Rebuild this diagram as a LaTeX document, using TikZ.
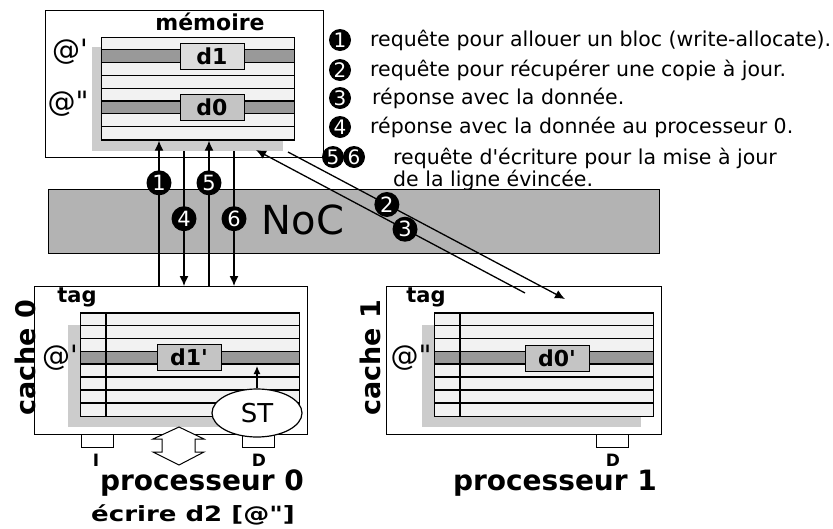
\documentclass[tikz,border=0pt]{standalone}
\usepackage{fontspec}
\setmainfont{DejaVu Sans}
\usetikzlibrary{arrows.meta,shapes.geometric}
\newcommand\fsz[1]{\fontsize{#1}{#1}\selectfont}
\definecolor{rowc}{HTML}{F2F2F2}
\definecolor{bandc}{HTML}{999999}
\definecolor{shadc}{HTML}{CCCCCC}
\definecolor{dlight}{HTML}{DDDDDD}
\definecolor{dmid}{HTML}{C4C4C4}
\definecolor{nocc}{HTML}{B3B3B3}
\begin{document}
\begin{tikzpicture}[x=1pt,y=-1pt,
  box/.style={draw, line width=1.4pt, fill=white, inner sep=0, anchor=north west},
  arr/.style={line width=1.3pt, -{Latex[length=10pt,width=9pt]}},
  num/.style={circle, fill=black, text=white, inner sep=0, minimum size=22pt, font=\fsz{20}},
  anum/.style={num, minimum size=25pt, font=\fsz{21}},
  dbox/.style={draw, line width=1pt, inner sep=0, minimum width=64pt, minimum height=26pt, font=\bfseries\fsz{22}},
  leg/.style={anchor=west, inner sep=0, font=\fsz{20.5}},
  bold/.style={inner sep=0, font=\bfseries\fsz{#1}},
  port/.style={draw, line width=1pt, fill=white, inner sep=0, minimum width=32pt, minimum height=13pt, anchor=north west}
]
\useasboundingbox (0,0) rectangle (833,528);

% ---------------- memory ----------------
\node[box, minimum width=278pt, minimum height=147pt] (mem) at (45,10) {};
\node[bold=22] (memt) at (210,22) {mémoire};
\node[fill=shadc, inner sep=0, minimum width=191pt, minimum height=104pt, anchor=north west] (memsh) at (92,47) {};
\foreach \i in {0,...,7} \fill[rowc] (101,{37+\i*12.8}) rectangle (294,{49.8+\i*12.8});
\fill[bandc] (101,49.8) rectangle (294,62.6);
\fill[bandc] (101,101) rectangle (294,113.8);
\foreach \i in {1,...,7} \draw[line width=1.3pt] (101,{37+\i*12.8}) -- (294,{37+\i*12.8});
\node[draw, line width=1.3pt, inner sep=0, minimum width=193pt, minimum height=102.4pt, anchor=north west] (memarr) at (101,37) {};
\node[dbox, fill=dlight] (d1) at (212,56) {d1};
\node[dbox, fill=dmid] (d0) at (212,107.5) {d0};
\node[inner sep=0, font=\fsz{28}] (ma1) at (70,52) {@\textquotesingle};
\node[inner sep=0, font=\fsz{28}] (ma2) at (68,104) {@\textquotedbl};

% ---------------- legend ----------------
\node[num] (l1) at (340,40) {1};
\node[leg] (t1) at (370,40) {requête pour allouer un bloc (write-allocate).};
\node[num] (l2) at (340,70) {2};
\node[leg] (t2) at (370,70) {requête pour récupérer une copie à jour.};
\node[num] (l3) at (340,98) {3};
\node[leg] (t3) at (372,98) {réponse avec la donnée.};
\node[num] (l4) at (340,127) {4};
\node[leg] (t4) at (370,127) {réponse avec la donnée au processeur 0.};
\node[num] (l5) at (333,157) {5};
\node[num] (l6) at (354,157) {6};
\node[leg, align=left, font=\fontsize{20.5}{18.5}\selectfont, anchor=north west] (t5) at (393,148) {requête d\textquotesingle écriture pour la mise à jour\\de la ligne évincée.};

% ---------------- NoC ----------------
\node[draw, line width=1.4pt, fill=nocc, inner sep=0, minimum width=611pt, minimum height=64pt, anchor=north west] (noc) at (48,189) {};
\node[inner sep=0, font=\fsz{40}] (noct) at (303,220) {NoC};

% ---------------- cache 0 ----------------
\node[box, minimum width=273pt, minimum height=148pt] (c0) at (34,286) {};
\node[bold=21] (tag0) at (77,297) {tag};
\node[fill=shadc, inner sep=0, minimum width=219pt, minimum height=102pt, anchor=north west] (c0sh) at (68,325) {};
\foreach \i in {0,...,7} \fill[rowc] (80,{312.3+\i*12.96}) rectangle (299,{325.26+\i*12.96});
\fill[bandc] (80,351.2) rectangle (299,364.2);
\foreach \i in {1,...,7} \draw[line width=1.3pt] (80,{312.3+\i*12.96}) -- (299,{312.3+\i*12.96});
\draw[line width=1.3pt] (106,312.3) -- (106,416);
\node[draw, line width=1.3pt, inner sep=0, minimum width=219pt, minimum height=103.7pt, anchor=north west] (c0arr) at (80,312.3) {};
\node[dbox, fill=dmid] (d1p) at (189,357) {d1\textquotesingle};
\node[inner sep=0, font=\fsz{28}] (ca0) at (60,358) {@\textquotesingle};
\node[bold=27, rotate=90] (c0t) at (25,358) {cache 0};
\node[port] (p0i) at (81,434) {};
\node[port] (p0d) at (242,434) {};
\node[bold=17] (p0il) at (96,460) {I};
\node[bold=17] (p0dl) at (259,460) {D};

% ---------------- cache 1 ----------------
\node[box, minimum width=275pt, minimum height=148pt] (c1) at (386,286) {};
\node[bold=21] (tag1) at (426,297) {tag};
\node[fill=shadc, inner sep=0, minimum width=219pt, minimum height=102pt, anchor=north west] (c1sh) at (422,325) {};
\foreach \i in {0,...,7} \fill[rowc] (434,{312.3+\i*12.96}) rectangle (653,{325.26+\i*12.96});
\fill[bandc] (434,351.2) rectangle (653,364.2);
\foreach \i in {1,...,7} \draw[line width=1.3pt] (434,{312.3+\i*12.96}) -- (653,{312.3+\i*12.96});
\draw[line width=1.3pt] (460,312.3) -- (460,416);
\node[draw, line width=1.3pt, inner sep=0, minimum width=219pt, minimum height=103.7pt, anchor=north west] (c1arr) at (434,312.3) {};
\node[dbox, fill=dmid] (d0p) at (557,358) {d0\textquotesingle};
\node[inner sep=0, font=\fsz{28}] (ca1) at (411,358) {@\textquotedbl};
\node[bold=27, rotate=90] (c1t) at (370,358) {cache 1};
\node[port] (p1d) at (596,434) {};
\node[bold=17] (p1dl) at (613,460) {D};

% ---------------- ST ----------------
\node[draw, ellipse, line width=1.2pt, fill=white, inner sep=0, minimum width=90pt, minimum height=48pt, font=\fsz{26}] (st) at (257,413) {ST};
\coordinate (stend) at (257,366);
\draw[line width=1.3pt, -{Latex[length=8pt,width=7pt]}] (st.north) -- (stend);

% hollow double arrow
\draw[line width=1pt, fill=white] (179,427) -- (204,439) -- (195,439) -- (195,452) -- (204,452) -- (179,465) -- (153,452) -- (162,452) -- (162,439) -- (153,439) -- cycle;

\node[bold=28] (pr0) at (202,483) {processeur 0};
\node[bold=21] (wr) at (193,515) {\scalebox{1.24}[1]{écrire d2 [@\textquotedbl]}};
\node[bold=28] (pr1) at (555,483) {processeur 1};

% ---------------- vertical arrows ----------------
\coordinate (x1) at (159,0);
\coordinate (x4) at (184,0);
\coordinate (x5) at (209,0);
\coordinate (x6) at (234,0);
\draw[arr] (c0.north -| x1) -- (memarr.south -| x1) node[anum, pos=0.71] (n1) {1};
\draw[arr] (memsh.south -| x4) -- (c0.north -| x4) node[anum, pos=0.5] (n4) {4};
\draw[arr] (c0.north -| x5) -- (memarr.south -| x5) node[anum, pos=0.71] (n5) {5};
\draw[arr] (memsh.south -| x6) -- (c0.north -| x6) node[anum, pos=0.5] (n6) {6};

% ---------------- diagonal arrows ----------------
\coordinate (a2s) at (288,152);
\coordinate (a2e) at (565,299);
\coordinate (a3s) at (525,293);
\coordinate (a3e) at (256,150);
\draw[arr] (a2s) -- (a2e) node[anum, pos=0.357] (n2) {2};
\draw[arr] (a3s) -- (a3e) node[anum, pos=0.446] (n3) {3};
\end{tikzpicture}
\end{document}
